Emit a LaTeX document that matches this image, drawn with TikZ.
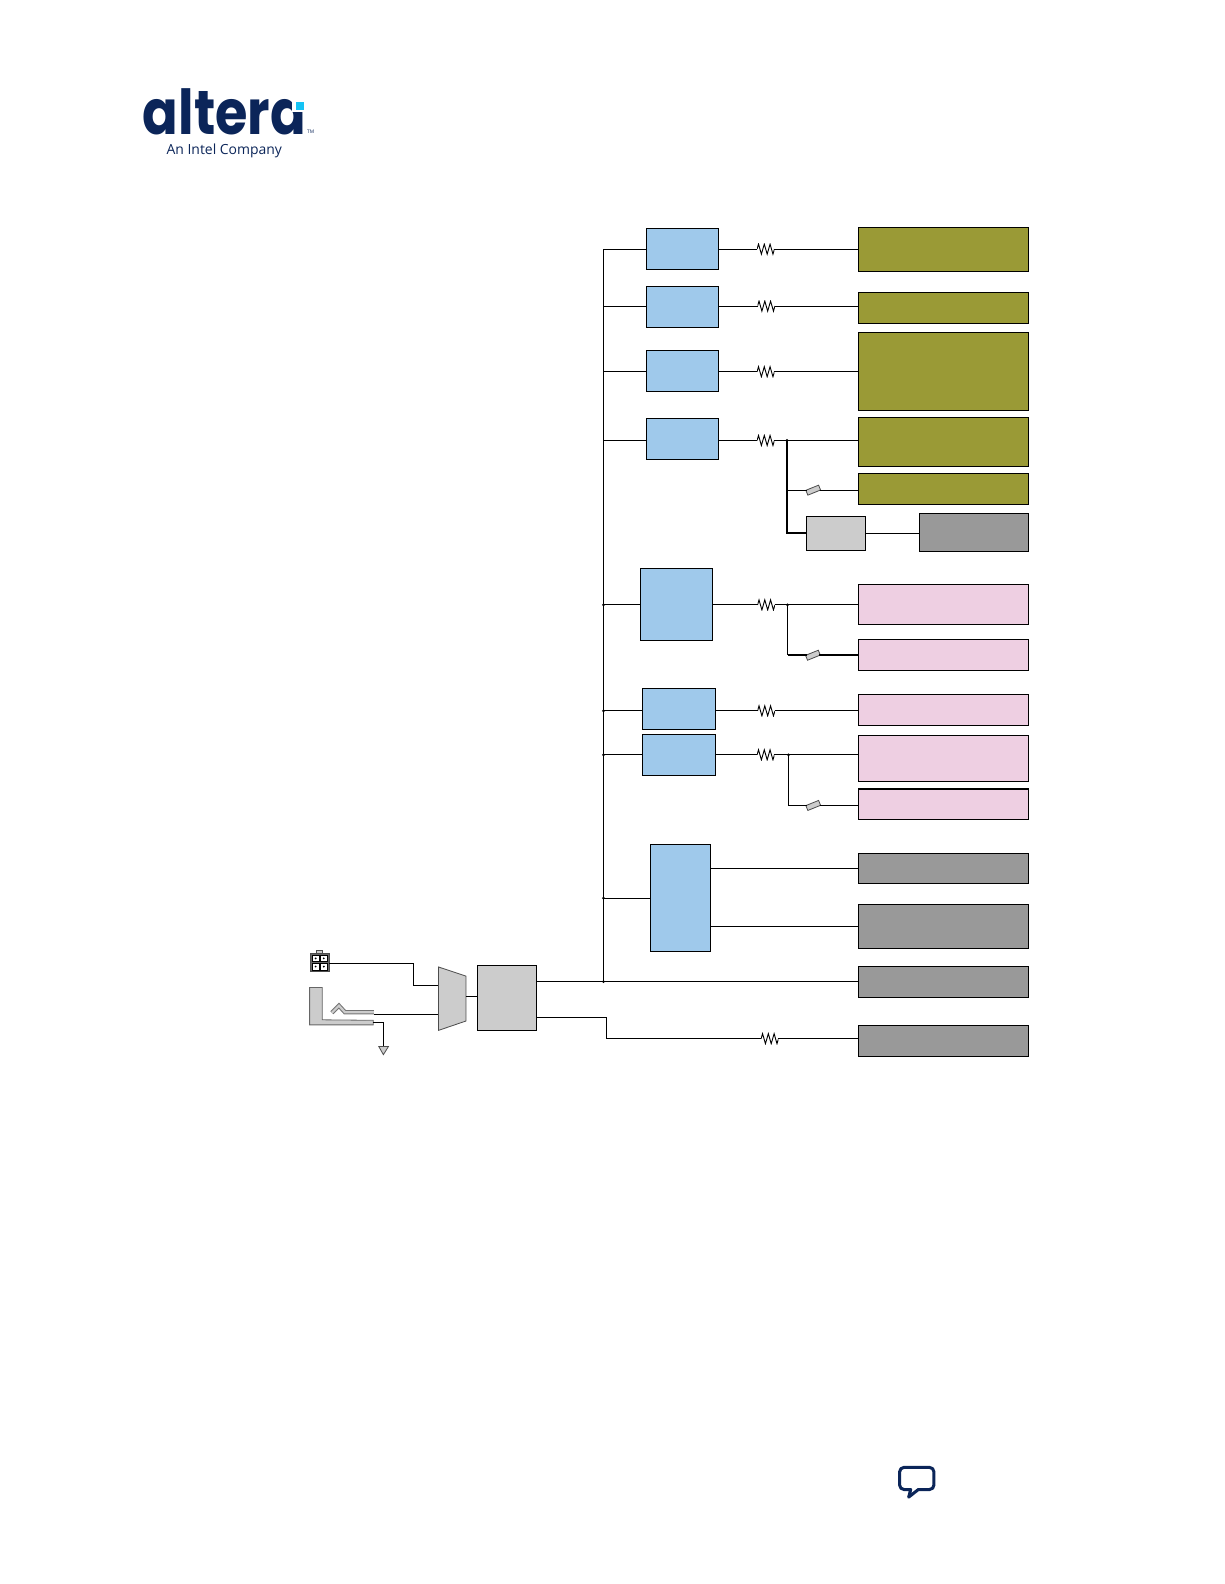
\documentclass[tikz,border=0pt]{standalone}
\usepackage{fontspec}
\newfontfamily\logofont{Poppins}
\newfontfamily\subfont{Open Sans}
\definecolor{blu}{HTML}{9FC9EB}
\definecolor{oli}{HTML}{9A9A36}
\definecolor{pnk}{HTML}{EECFE2}
\definecolor{dgr}{HTML}{999999}
\definecolor{lgr}{HTML}{CCCCCC}
\definecolor{navy}{HTML}{0B2559}
\definecolor{cyn}{HTML}{14C3F5}
\tikzset{
 bbox/.style={draw=black,line width=0.55pt,inner sep=0pt,outer sep=0pt},
 bluebox/.style={bbox,fill=blu},
 olivebox/.style={bbox,fill=oli},
 pinkbox/.style={bbox,fill=pnk},
 darkbox/.style={bbox,fill=dgr},
 lightbox/.style={bbox,fill=lgr},
 wire/.style={draw=black,line width=0.5pt},
 heavy/.style={draw=black,line width=1pt},
 jdot/.style={circle,fill=black,inner sep=0pt,minimum size=1.5pt},
 resistor/.style={inner sep=0pt,outer sep=0pt,minimum width=8.6pt,minimum height=6pt,
  path picture={\draw[black,line width=0.45pt,line join=miter]
   (path picture bounding box.west)
   -- ++(0.72pt,2.5pt) -- ++(1.43pt,-5pt) -- ++(1.43pt,5pt) -- ++(1.43pt,-5pt) -- ++(1.43pt,5pt) -- ++(1.43pt,-5pt) -- ++(0.72pt,2.5pt);}},
 fuse/.style={draw=black!70,fill=lgr,line width=0.4pt,inner sep=0pt,outer sep=0pt,minimum width=6.8pt,minimum height=2.6pt,rotate=22},
}
\newcommand{\bx}[6]{\node[#2,minimum width={(#5-#3)*0.5pt},minimum height={(#6-#4)*0.5pt}] (#1) at ({(#3+#5)/2},{(#4+#6)/2}) {};}
\begin{document}
\begin{tikzpicture}[x=0.5pt,y=-0.5pt]
\useasboundingbox (0,0) rectangle (1212,1568);
% logo
\node[inner sep=0pt,anchor=base west,text=navy,font=\logofont\bfseries\fontsize{26pt}{26pt}\selectfont] (logo) at (141,133) {\scalebox{1}[1.18]{altera}};
\fill[white] (289.5,97) rectangle (303,111);
\node[fill=cyn,inner sep=0pt,outer sep=0pt,minimum size=4pt] (logodot) at (297.4,105) {};
\node[inner sep=0pt,text=navy,font=\subfont\fontsize{2.4pt}{3pt}\selectfont] (tm) at (307.5,130.5) {TM};
\node[inner sep=0pt,text=navy,font=\subfont\fontsize{6.9pt}{9pt}\selectfont] (sub) at (222,149) {An Intel Company};
% blue regulators
\bx{b1}{bluebox}{640}{226}{711.5}{266.7}
\bx{b2}{bluebox}{640}{283.5}{711.5}{324.2}
\bx{b3}{bluebox}{640}{347}{711.5}{387.5}
\bx{b4}{bluebox}{640}{414}{711.5}{454.6}
\bx{b5}{bluebox}{634}{563}{705.5}{634.2}
\bx{b6}{bluebox}{636}{681.5}{708.5}{722.2}
\bx{b7}{bluebox}{636}{727.2}{708.5}{767.6}
\bx{b8}{bluebox}{644}{836}{703.5}{942}
% loads
\bx{t1}{olivebox}{850}{225}{1018.5}{268.6}
\bx{t2}{olivebox}{850}{289.4}{1018.5}{320.2}
\bx{t3}{olivebox}{850}{329}{1018.5}{406.3}
\bx{t4}{olivebox}{850}{413.2}{1018.5}{461.5}
\bx{t5}{olivebox}{850}{468.5}{1018.5}{499.3}
\bx{sm}{lightbox}{798.5}{511}{857}{545}
\bx{t6}{darkbox}{910.5}{508}{1018.5}{545.5}
\bx{p1}{pinkbox}{850}{578.3}{1018.5}{618.2}
\bx{p2}{pinkbox}{850}{633}{1018.5}{663.8}
\bx{p3}{pinkbox}{850}{687.5}{1018.5}{718.3}
\bx{p4}{pinkbox}{850}{728.2}{1018.5}{773.5}
\bx{p5}{pinkbox}{850}{781}{1018.5}{811.3}
\bx{g1}{darkbox}{850}{844.5}{1018.5}{875}
\bx{g2}{darkbox}{850}{895.5}{1018.5}{939}
\bx{g3}{darkbox}{850}{956.5}{1018.5}{987.5}
\bx{g4}{darkbox}{850}{1015.3}{1018.5}{1046}
\bx{reg}{lightbox}{472.5}{955.8}{531}{1020.2}
% resistors
\node[resistor] (r1) at (758,246.6) {};
\node[resistor] (r2) at (758.5,303) {};
\node[resistor] (r3) at (758,368) {};
\node[resistor] (r4) at (758,436) {};
\node[resistor] (r5) at (758.5,598.8) {};
\node[resistor] (r6) at (758.5,703.7) {};
\node[resistor] (r7) at (758,747.2) {};
\node[resistor] (r8) at (762,1028.2) {};
% fuses
\node[fuse] (f1) at (805,485.2) {};
\node[fuse] (f2) at (804.7,648.6) {};
\node[fuse] (f3) at (805,797.3) {};
% bus
\coordinate (bustop) at (597.4,246.6);
\coordinate (busbot) at (597.4,971.7);
\draw[wire] (bustop) -- (busbot);
\draw[wire] (bustop) -- (b1.west |- bustop);
\foreach \r/\b in {r2/b2,r3/b3,r4/b4,r5/b5,r6/b6,r7/b7}{\draw[wire] (bustop |- \r) -- (\b.west |- \r);}
\draw[wire] (bustop |- b8.west) -- (b8.west);
\foreach \r in {r5,r6,r7}{\node[jdot] at (bustop |- \r) {};}
\node[jdot] (jb8) at (bustop |- b8.west) {};
\node[jdot] (jbot) at (busbot) {};
% regulator to resistor to load
\foreach \b/\r/\t in {b1/r1/t1,b2/r2/t2,b3/r3/t3,b4/r4/t4,b5/r5/p1,b6/r6/p3,b7/r7/p4}{
 \draw[wire] (\b.east |- \r) -- (\r.west);
 \draw[wire] (\r.east) -- (\t.west |- \r);
}
% branches
\coordinate (j4) at (779,436);
\coordinate (j5) at (779.6,598.8);
\coordinate (j7) at (780.5,747.2);
\draw[heavy] (j4) -- (j4 |- sm.west) -- (sm.west);
\draw[wire] (j4 |- f1) -- (f1.west |- f1.center);
\draw[wire] (f1.east |- f1.center) -- (t5.west |- f1);
\draw[wire] (sm.east) -- (t6.west |- sm.east);
\draw[wire] (j5) -- (j5 |- f2);
\draw[heavy] (j5 |- f2) -- (f2.west |- f2.center);
\draw[heavy] (f2.east |- f2.center) -- (p2.west |- f2);
\draw[wire] (j7) -- (j7 |- f3) -- (f3.west |- f3.center);
\draw[wire] (f3.east |- f3.center) -- (p5.west |- f3);
\node[jdot] at (j4) {};
\node[jdot] at (j5) {};
\node[jdot] at (j7) {};
% blue8 outputs
\draw[wire] (b8.east |- g1.west) -- (g1.west);
\draw[wire] (b8.east |- g2.west) -- (g2.west);
% main rail
\draw[wire] (reg.east |- busbot) -- (g3.west |- busbot);
\coordinate (vbend) at (600.4,1007.3);
\draw[wire] (reg.east |- vbend) -- (vbend) -- (vbend |- r8) -- (r8.west);
\draw[wire] (r8.east) -- (g4.west |- r8);
% mux
\coordinate (m1) at (434,957.2);
\coordinate (m2) at (461.2,966.2);
\coordinate (m3) at (461.2,1010.7);
\coordinate (m4) at (434,1020);
\draw[draw=black!70,fill=lgr,line width=0.4pt] (m1) -- (m2) -- (m3) -- (m4) -- cycle;
\coordinate (mo) at (461.2,986.7);
\draw[wire] (mo) -- (reg.west |- mo);
% power connector
\bx{conn}{bbox,fill=black!60,draw=black!70}{307}{943.5}{326}{962}
\bx{tab}{bbox,fill=lgr,draw=black!70}{313.5}{940.5}{319}{943.5}
\bx{c1}{bbox,fill=white,draw=black,line width=0.3pt}{309}{945.5}{316}{952}
\bx{c2}{bbox,fill=white,draw=black,line width=0.3pt}{317}{945.5}{324}{952}
\bx{c3}{bbox,fill=white,draw=black,line width=0.3pt}{309}{953.5}{316}{960}
\bx{c4}{bbox,fill=white,draw=black,line width=0.3pt}{317}{953.5}{324}{960}
\foreach \c in {c1,c2,c3,c4}{\fill[black] (\c.center) circle (1);}
\coordinate (cb1) at (409.6,953.6);
\coordinate (cb2) at (409.6,975.3);
\draw[wire] (conn.east |- cb1) -- (cb1) -- (cb2) -- (m1 |- cb2);
% jack
\draw[draw=black!60,fill=lgr,line width=0.4pt] (306.5,977.5) -- (319,977.5) -- (319,1009.5) -- (369.5,1010) -- (369.5,1014.5) -- (306.5,1014.5) -- cycle;
\coordinate (sp) at (370,1004.4);
\draw[draw=black!55,line width=2.1pt,line join=miter] (328.5,1002.5) -- (335.5,995.5) -- (341.5,1002) -- (370,1002);
\draw[draw=lgr,line width=1.1pt,line join=miter] (328.5,1002.5) -- (335.5,995.5) -- (341.5,1002) -- (370,1002);
\draw[wire] (sp) -- (m1 |- sp);
% ground
\coordinate (gs) at (369.5,1012);
\coordinate (gb) at (379.5,1012);
\coordinate (gt) at (379.5,1036);
\draw[wire] (gs) -- (gb) -- (gt);
\draw[draw=black!70,fill=lgr,line width=0.4pt] (375,1036) -- (384.5,1036) -- (379.5,1044) -- cycle;
% speech bubble
\draw[navy,line width=1.5pt,line join=round,fill=white] (895,1452.5) -- (920,1452.5) to[out=0,in=90] (924.5,1457) -- (924.5,1470) to[out=-90,in=0] (920,1474.5) -- (909,1474.5) -- (899.5,1482) -- (901.5,1474.5) -- (895,1474.5) to[out=180,in=-90] (890.5,1470) -- (890.5,1457) to[out=90,in=180] cycle;
\end{tikzpicture}
\end{document}
